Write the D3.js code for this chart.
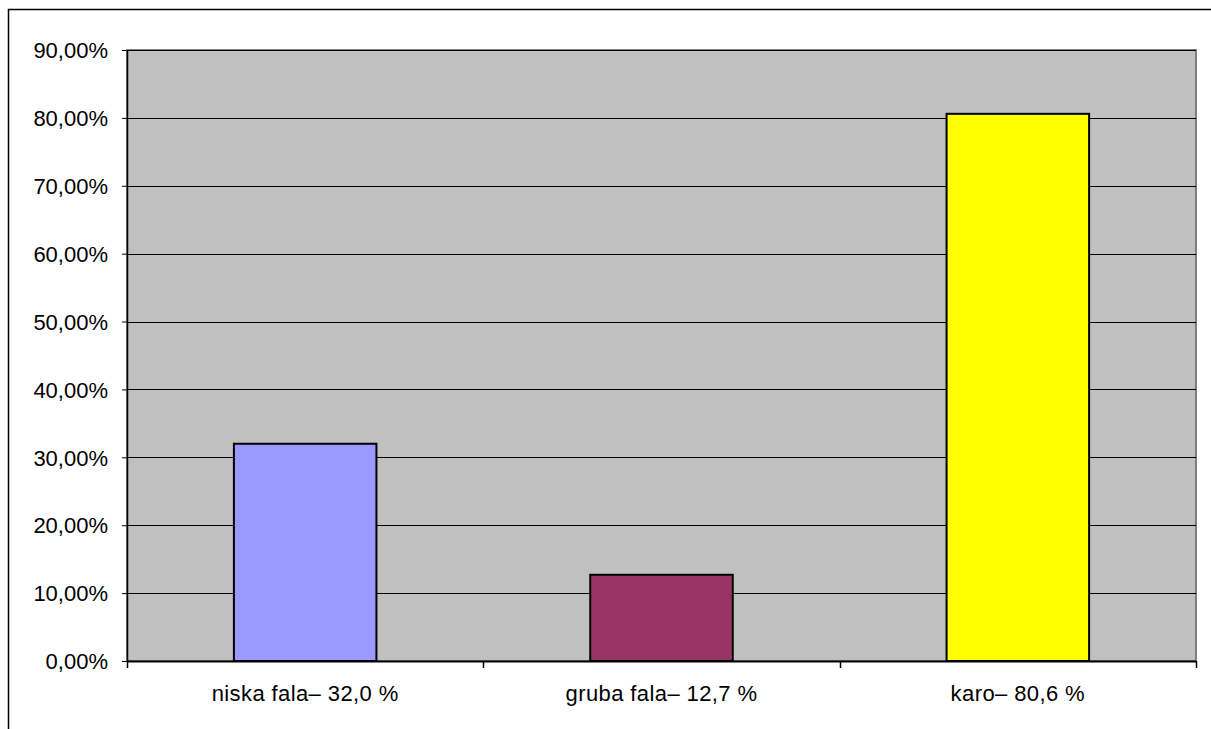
<!DOCTYPE html>
<html>
<head>
<meta charset="utf-8">
<script src="https://cdn.jsdelivr.net/npm/d3@7"></script>
<style>
  body { margin: 0; background: #fff; }
  svg text { font-family: "Liberation Sans", Arial, sans-serif; fill: #000; }
</style>
</head>
<body>
<div id="viz"></div>
<script>
// chart values
var categories = ["niska fala– 32,0 %", "gruba fala– 12,7 %", "karo– 80,6 %"];
var values = [0.320, 0.127, 0.806];
var barColors = ["#9999FF", "#993366", "#FFFF00"];
var yTicks = [0, 0.1, 0.2, 0.3, 0.4, 0.5, 0.6, 0.7, 0.8, 0.9];

var W = 1211, H = 729;
var margin = { top: 50, right: 15, bottom: 68, left: 127 },
  width = 1196 - margin.left,
  height = 661 - margin.top;

var svg = d3.select("#viz").append("svg")
  .attr("width", W)
  .attr("height", H);

// outer chart border (runs off the right / bottom edge)
svg.append("rect")
  .attr("x", 8.5).attr("y", 9.5)
  .attr("width", W + 20).attr("height", H + 20)
  .attr("fill", "none")
  .attr("stroke", "#000")
  .attr("stroke-width", 1.5);

var g = svg.append("g")
  .attr("transform", "translate(" + margin.left + "," + margin.top + ")");

var xScale = d3.scaleBand().domain(categories).range([0, width]).paddingInner(0).paddingOuter(0);
var yScale = d3.scaleLinear().domain([0, 0.9]).range([height, 0]);

// plot area
g.append("rect")
  .attr("x", 0).attr("y", 0)
  .attr("width", width).attr("height", height)
  .attr("fill", "#C0C0C0")
  .attr("stroke", "#808080")
  .attr("stroke-width", 2);

// gridlines
g.selectAll(".grid")
  .data(yTicks.slice(1))
  .enter().append("line")
  .attr("x1", 0).attr("x2", width)
  .attr("y1", function (d) { return Math.round(yScale(d)) + 0.5; })
  .attr("y2", function (d) { return Math.round(yScale(d)) + 0.5; })
  .attr("stroke", "#000")
  .attr("stroke-width", 1);

// bars
var barW = xScale.bandwidth() * 0.4;
g.selectAll(".bar")
  .data(values)
  .enter().append("rect")
  .attr("x", function (d, i) { return xScale(categories[i]) + (xScale.bandwidth() - barW) / 2; })
  .attr("y", function (d) { return yScale(d); })
  .attr("width", barW)
  .attr("height", function (d) { return height - yScale(d); })
  .attr("fill", function (d, i) { return barColors[i]; })
  .attr("stroke", "#000")
  .attr("stroke-width", 2);

// y axis
var yAxis = d3.axisLeft(yScale)
  .tickValues(yTicks)
  .tickSize(5)
  .tickPadding(14)
  .tickFormat(function (d) { return (d * 100).toFixed(2).replace(".", ",") + "%"; });
var ya = g.append("g").call(yAxis);
ya.select(".domain").attr("stroke", "#000").attr("stroke-width", 1.5).attr("d", "M0.5," + height + "V0");
ya.selectAll("line").attr("stroke", "#000");
ya.selectAll("text").style("font-size", "22px").attr("dy", "0.35em");

// x axis
var xa = g.append("g")
  .attr("transform", "translate(0," + height + ")")
  .call(d3.axisBottom(xScale).tickSize(0).tickPadding(24));
xa.select(".domain").attr("stroke", "#000").attr("stroke-width", 2).attr("d", "M0,0.5H" + width);
xa.selectAll("text").style("font-size", "22px").style("letter-spacing", "0.4px");

// category boundary ticks
var bounds = [0].concat(categories.map(function (c) { return xScale(c) + xScale.bandwidth(); }));
xa.selectAll(".btick")
  .data(bounds)
  .enter().append("line")
  .attr("x1", function (d) { return Math.round(d) + 0.5; })
  .attr("x2", function (d) { return Math.round(d) + 0.5; })
  .attr("y1", 0).attr("y2", 7)
  .attr("stroke", "#000")
  .attr("stroke-width", 1.5);
</script>
</body>
</html>
